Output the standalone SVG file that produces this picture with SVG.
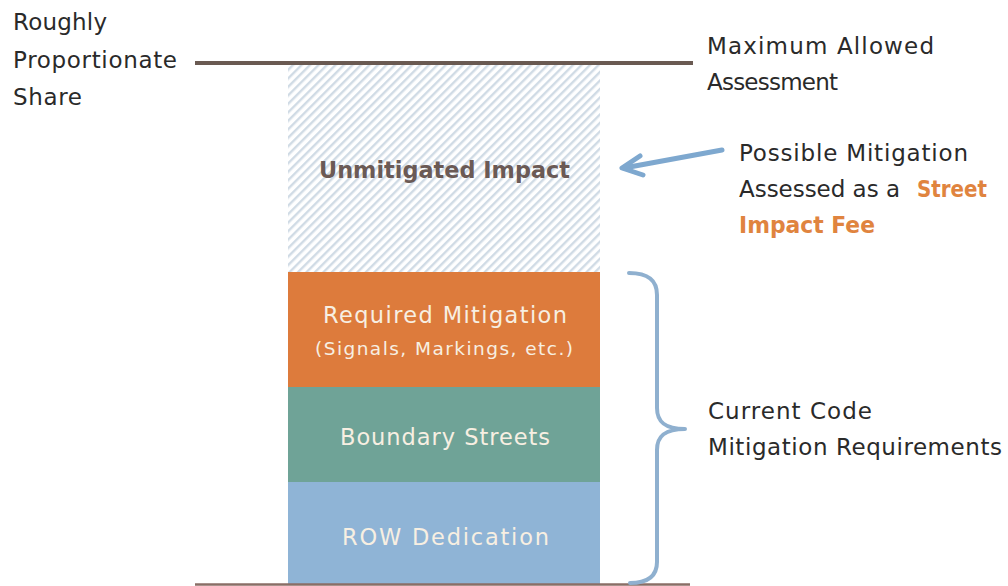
<svg xmlns="http://www.w3.org/2000/svg" width="1008" height="586" viewBox="0 0 1008 586">
  <style>
    .lbl { font-family: "DejaVu Sans", "Liberation Sans", sans-serif; font-size: 23px; fill: #2a2a2a; }
    .in { font-family: "DejaVu Sans", "Liberation Sans", sans-serif; font-size: 22.5px; fill: #f7efe2; }
    .small { font-size: 18.5px; }
    .bold { font-weight: bold; }
    .fee { fill: #e0843f; font-weight: bold; }
    .brace { fill: none; stroke: #8fb0cf; stroke-width: 4; stroke-linecap: round; stroke-linejoin: round; }
    .arrow { fill: none; stroke: #7ea8cf; stroke-width: 5; stroke-linecap: round; stroke-linejoin: round; }
  </style>
  <defs>
    <pattern id="hatch" patternUnits="userSpaceOnUse" width="6" height="6" patternTransform="rotate(45)">
      <rect width="6" height="6" fill="#ffffff"/>
      <rect x="0" y="0" width="2.4" height="6" fill="#d0dbe5"/>
    </pattern>
  </defs>

  <rect width="1008" height="586" fill="#ffffff"/>

  <!-- stacked bar -->
  <g id="unmitigated">
    <rect x="288" y="65" width="312" height="207" fill="url(#hatch)"/>
    <text class="lbl bold" x="319" y="178" style="fill:#6b5a55" textLength="251" lengthAdjust="spacingAndGlyphs">Unmitigated Impact</text>
  </g>
  <g id="required">
    <rect x="288" y="272" width="312" height="115" fill="#dd7b3c"/>
    <text class="in" x="323" y="323" textLength="244" lengthAdjust="spacing">Required Mitigation</text>
    <text class="in small" x="315" y="355" textLength="258" lengthAdjust="spacing">(Signals, Markings, etc.)</text>
  </g>
  <g id="boundary">
    <rect x="288" y="387" width="312" height="95" fill="#6fa397"/>
    <text class="in" x="340" y="445" textLength="210" lengthAdjust="spacing">Boundary Streets</text>
  </g>
  <g id="row">
    <rect x="288" y="482" width="312" height="102" fill="#8fb4d6"/>
    <text class="in" x="342" y="545" textLength="207" lengthAdjust="spacing">ROW Dedication</text>
  </g>

  <!-- reference lines -->
  <g id="limits">
    <line x1="195" y1="63" x2="693" y2="63" stroke="#6a5a52" stroke-width="4"/>
    <line x1="195" y1="584.5" x2="690" y2="584.5" stroke="#8a6e66" stroke-width="2.5"/>
  </g>

  <!-- side labels -->
  <g id="share">
    <text class="lbl" x="13" y="30" textLength="94" lengthAdjust="spacing">Roughly</text>
    <text class="lbl" x="13" y="68" textLength="164" lengthAdjust="spacing">Proportionate</text>
    <text class="lbl" x="13" y="105" textLength="69" lengthAdjust="spacing">Share</text>
  </g>
  <g id="maximum">
    <text class="lbl" x="707" y="54" textLength="227" lengthAdjust="spacing">Maximum Allowed</text>
    <text class="lbl" x="707" y="90" textLength="131" lengthAdjust="spacing">Assessment</text>
  </g>
  <g id="fee">
    <text class="lbl" x="739" y="161" textLength="229" lengthAdjust="spacing">Possible Mitigation</text>
    <text class="lbl" x="739" y="197" textLength="161" lengthAdjust="spacing">Assessed as a</text>
    <text class="lbl fee" x="917" y="197" textLength="70" lengthAdjust="spacingAndGlyphs">Street</text>
    <text class="lbl fee" x="739" y="233" textLength="136" lengthAdjust="spacingAndGlyphs">Impact Fee</text>
  </g>
  <g id="current">
    <text class="lbl" x="708" y="419" textLength="164" lengthAdjust="spacing">Current Code</text>
    <text class="lbl" x="708" y="455" textLength="294" lengthAdjust="spacing">Mitigation Requirements</text>
  </g>

  <!-- connectors -->
  <g id="connectors">
    <path class="arrow" d="M722,150 L624,168"/>
    <path class="arrow" d="M640,156 L622,168 L643,175"/>
    <path class="brace" d="M629,273 C648,273 657,280 657,295 L657,408 C657,422 665,429 685,429 C665,429 657,436 657,450 L657,562 C657,576 648,583 630,583"/>
  </g>
</svg>
